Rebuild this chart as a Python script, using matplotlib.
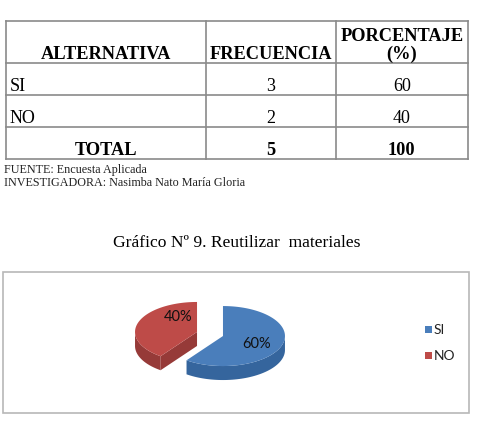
# tabla + grafico 3D de pastel: Reutilizar materiales
import numpy as np
import matplotlib
matplotlib.use("Agg")
import matplotlib.pyplot as plt
from matplotlib.patches import Polygon, Rectangle

# datos
alternativas = ["SI", "NO"]
frecuencia = [3, 2]
porcentaje = [60, 40]
encabezados = ["ALTERNATIVA", "FRECUENCIA", "PORCENTAJE\n(%)"]
fuente = "FUENTE: Encuesta Aplicada"
investigadora = "INVESTIGADORA: Nasimba Nato María Gloria"
titulo = "Gráfico Nº 9. Reutilizar  materiales"

# colores de las porciones (top, lado)
col_top = ["#4A7EBB", "#BE4B48"]
col_side = ["#35659D", "#963A38"]

serif = "Liberation Serif"
sans = "Lato"

fig = plt.figure(figsize=(4.79, 4.29), dpi=100)
ax = fig.add_axes([0, 0, 1, 1])
ax.set_xlim(0, 479)
ax.set_ylim(429, 0)
ax.axis("off")

# ---- tabla ----
xs = [5.7, 205.7, 335.7, 468]
ys = [20.7, 62.7, 95, 127.3, 159.3]
lc = "#8a8a8a"
for x in xs:
    ax.plot([x, x], [ys[0], ys[-1]], color=lc, lw=1.2)
for y in ys:
    ax.plot([xs[0], xs[-1]], [y, y], color=lc, lw=1.2)

fs_h = 13.2
fs_b = 13
cx = [(xs[i] + xs[i + 1]) / 2 for i in range(3)]
for j in range(3):
    ax.text(cx[j], 59, encabezados[j], ha="center", va="baseline",
            fontsize=fs_h, fontweight="bold", family=serif, linespacing=1.02)

base = [91, 123]
for i in range(len(alternativas)):
    ax.text(10, base[i], alternativas[i], ha="left", va="baseline",
            fontsize=fs_b, family=serif)
    ax.text(cx[1], base[i], str(frecuencia[i]), ha="center", va="baseline",
            fontsize=fs_b, family=serif)
    ax.text(cx[2], base[i], str(porcentaje[i]), ha="center", va="baseline",
            fontsize=fs_b, family=serif)

ax.text(cx[0], 155, "TOTAL", ha="center", va="baseline", fontsize=fs_h,
        fontweight="bold", family=serif)
ax.text(cx[1], 155, str(sum(frecuencia)), ha="center", va="baseline",
        fontsize=fs_h, fontweight="bold", family=serif)
ax.text(cx[2], 155, str(sum(porcentaje)), ha="center", va="baseline",
        fontsize=fs_h, fontweight="bold", family=serif)

ax.text(4, 172.5, fuente, ha="left", va="baseline", fontsize=8.7, family=serif, color="#222222")
ax.text(4, 186.5, investigadora, ha="left", va="baseline", fontsize=8.7, family=serif, color="#222222")

# ---- titulo ----
ax.text(237, 247, titulo, ha="center", va="baseline", fontsize=12.6, family=serif)

# ---- recuadro del grafico ----
ax.add_patch(Rectangle((3.5, 272), 466, 141, fill=False, ec="#b8b8b8", lw=1.2))

# ---- pastel 3D ----
pc = (210, 334)   # centro
rx, ry, d = 62, 30, 14
expl = 0.22
fr = np.array(porcentaje, dtype=float) / sum(porcentaje)
start = 90.0
angs = []
for f in fr:
    angs.append((start - 360 * f, start))
    start -= 360 * f


def pt(c, t, dz=0):
    return (c[0] + rx * np.cos(np.radians(t)), c[1] - ry * np.sin(np.radians(t)) + dz)


centers = []
for (a0, a1) in angs:
    mid = np.radians((a0 + a1) / 2)
    centers.append((pc[0] + expl * rx * np.cos(mid), pc[1] - expl * ry * np.sin(mid)))

lab_r = [0.6, 0.59]
lab_dang = [-8.6, -40.5]
order = [1, 0]
for i in order:
    a0, a1 = angs[i]
    c = centers[i]
    # cara lateral visible (mitad frontal)
    lo = a0 % 360
    hi = lo + (a1 - a0)
    segs = []
    for k in range(-1, 3):
        s0 = max(lo, 180 + 360 * k)
        s1 = min(hi, 360 + 360 * k)
        if s1 > s0:
            segs.append((s0, s1))
    for s0, s1 in segs:
        t = np.linspace(s0, s1, 60)
        top = [pt(c, tt) for tt in t]
        bot = [pt(c, tt, d) for tt in t[::-1]]
        ax.add_patch(Polygon(top + bot, closed=True, fc=col_side[i], ec="none"))
    # caras de corte
    for edge, sign in [(a0, -1), (a1, 1)]:
        nrm = np.radians(edge + 90 * sign)
        if np.sin(nrm) < -0.05:
            p = pt(c, edge)
            quad = [c, p, (p[0], p[1] + d), (c[0], c[1] + d)]
            ax.add_patch(Polygon(quad, closed=True, fc=col_side[i], ec="none"))
    # cara superior
    t = np.linspace(a0, a1, 120)
    poly = [c] + [pt(c, tt) for tt in t]
    ax.add_patch(Polygon(poly, closed=True, fc=col_top[i], ec="none"))
    # etiqueta
    mid = (a0 + a1) / 2 + lab_dang[i]
    lx = c[0] + lab_r[i] * rx * np.cos(np.radians(mid))
    ly = c[1] - lab_r[i] * ry * np.sin(np.radians(mid))
    ax.text(lx, ly, "%d%%" % porcentaje[i], ha="center", va="center",
            fontsize=10.5, family=sans, color="#111111")

# ---- leyenda ----
ly0 = [329.5, 355.5]
for i in range(len(alternativas)):
    ax.add_patch(Rectangle((425, ly0[i] - 3.5), 7, 7, fc=col_top[i], ec="none"))
    ax.text(434, ly0[i], alternativas[i], ha="left", va="center",
            fontsize=10, family=sans, color="#222222")

fig.savefig("out.png", dpi=100)
